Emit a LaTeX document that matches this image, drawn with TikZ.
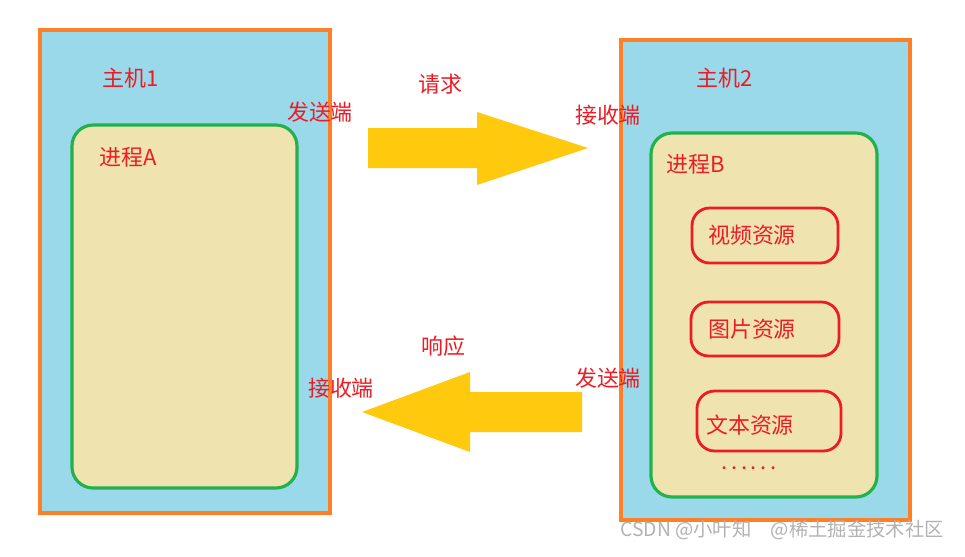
\documentclass[tikz,border=0pt]{standalone}
\usepackage{fontspec}
\newfontfamily\cjk{Noto Sans CJK SC}
\usepackage{tikz}
\definecolor{hostblue}{HTML}{99D9EA}
\definecolor{hostorange}{HTML}{FF7F27}
\definecolor{procyellow}{HTML}{EFE4B0}
\definecolor{procgreen}{HTML}{22B14C}
\definecolor{resred}{HTML}{ED1C24}
\definecolor{arrowyellow}{HTML}{FFC90E}
\begin{document}
\begin{tikzpicture}[x=0.02cm,y=-0.02cm]
\tikzstyle{every node}+=[font=\cjk\fontsize{12.5}{14}\selectfont]
\tikzstyle{lbl}=[text=resred]
\tikzstyle{res}=[draw=resred,line width=1.6pt,rounded corners=10pt]
\useasboundingbox (0,0) rectangle (965,556);
% host 1
\draw [hostorange,fill=hostblue,line width=1.8pt] (40,30) rectangle (330,513);
\draw [procgreen,fill=procyellow,line width=1.8pt,rounded corners=12pt] (72,125) rectangle (297,488);
\node [lbl] (host1) at (131,78) {主机1};
\node [lbl] (procA) at (128,157) {进程A};
% host 2
\draw [hostorange,fill=hostblue,line width=1.8pt] (621,40) rectangle (910,520);
\draw [procgreen,fill=procyellow,line width=1.8pt,rounded corners=12pt] (651,133) rectangle (877,497);
\node [lbl] (host2) at (725,78) {主机2};
\node [lbl] (procB) at (696,164) {进程B};
\draw [res] (692,208) rectangle (838,263);
\node [lbl] (video) at (752,235) {视频资源};
\draw [res] (691,302) rectangle (839,356);
\node [lbl] (image) at (752,329) {图片资源};
\draw [res] (697,391) rectangle (841,451);
\node [lbl] (text) at (750,425) {文本资源};
\node [lbl] (dots) at (749,468) {.\,.\,.\,.\,.\,.};
% request arrow
\fill [arrowyellow] (368,128) -- (477,128) -- (477,112) -- (588,148) -- (477,185) -- (477,168) -- (368,168) -- cycle;
\node [lbl] (send1) at (320,112) {发送端};
\node [lbl] (req) at (440,84) {请求};
\node [lbl] (recv2) at (608,115) {接收端};
% response arrow
\fill [arrowyellow] (582,392) -- (470,392) -- (470,372) -- (362,412) -- (470,452) -- (470,432) -- (582,432) -- cycle;
\node [lbl] (resp) at (443,346) {响应};
\node [lbl] (send2) at (608,378) {发送端};
\node [lbl] (recv1) at (341,388) {接收端};
\node [text=gray!60,anchor=east,font=\cjk\fontsize{11}{13}\selectfont] (mark) at (950,530) {CSDN @小叶知\quad @稀土掘金技术社区};
\end{tikzpicture}
\end{document}
